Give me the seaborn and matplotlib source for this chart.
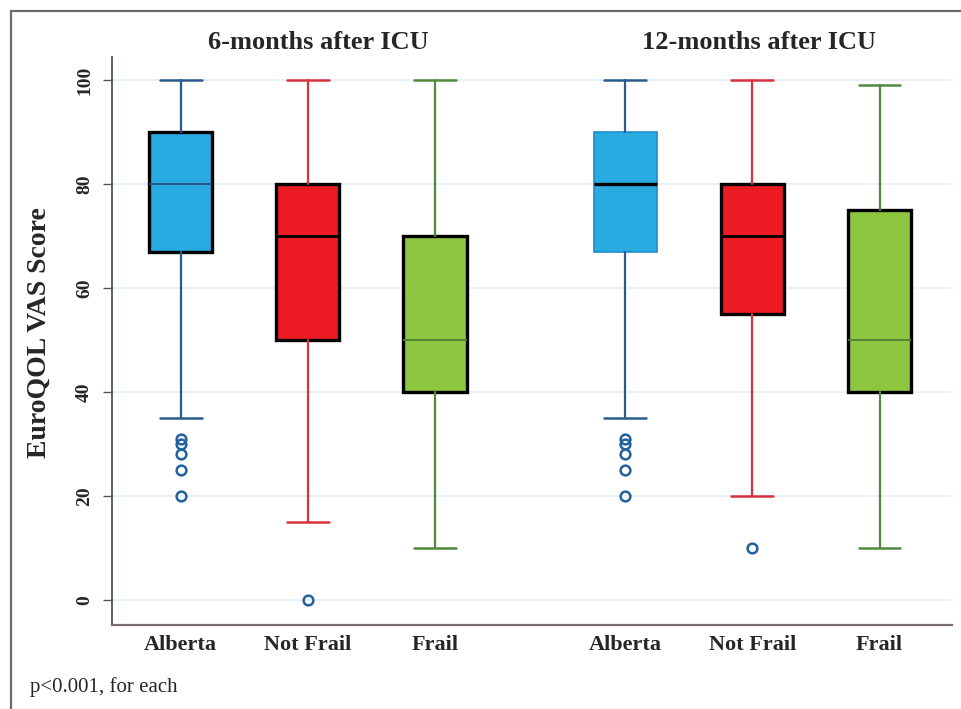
import matplotlib
matplotlib.use("Agg")
import matplotlib.pyplot as plt
from matplotlib.patches import Rectangle
import seaborn as sns

sns.set_style("white")
plt.rcParams["font.family"] = ["Liberation Serif", "DejaVu Serif"]

# ---- data -------------------------------------------------------------
groups = ["Alberta", "Not Frail", "Frail"]
periods = ["6-months after ICU", "12-months after ICU"]

# five-number summaries per box: low whisker, Q1, median, Q3, high whisker
m6_whislo = [35, 15, 10]
m6_q1 = [67, 50, 40]
m6_med = [80, 70, 50]
m6_q3 = [90, 80, 70]
m6_whishi = [100, 100, 100]
m6_fliers = [[31, 30, 28, 25, 20], [0], []]

m12_whislo = [35, 20, 10]
m12_q1 = [67, 55, 40]
m12_med = [80, 70, 50]
m12_q3 = [90, 80, 75]
m12_whishi = [100, 100, 99]
m12_fliers = [[31, 30, 28, 25, 20], [10], []]

y_ticks = [0, 20, 40, 60, 80, 100]

# ---- styles -----------------------------------------------------------
fill_colors = ["#29ABE2", "#ED1C24", "#8DC63F"]
whisker_colors = ["#2C5A8C", "#D8323F", "#4F8A3C"]
flier_color = "#23609E"

# per-box outline / median styling, 6-month boxes then 12-month boxes
edge_colors = ["black", "black", "black", "#1E8DCB", "black", "black"]
edge_widths = [2.4, 2.4, 2.4, 1.2, 2.4, 2.4]
median_colors = ["#2C4F7C", "black", "#4A7D36", "black", "black", "#4A7D36"]
median_widths = [1.3, 2.0, 1.3, 2.4, 2.0, 1.3]

positions = [0, 1, 2, 3.5, 4.5, 5.5]


def summaries(lo, q1, med, q3, hi, fl):
    out = []
    for i in range(len(lo)):
        out.append(dict(whislo=lo[i], q1=q1[i], med=med[i], q3=q3[i],
                        whishi=hi[i], fliers=fl[i]))
    return out


stats = (summaries(m6_whislo, m6_q1, m6_med, m6_q3, m6_whishi, m6_fliers)
         + summaries(m12_whislo, m12_q1, m12_med, m12_q3, m12_whishi, m12_fliers))

fig = plt.figure(figsize=(9.61, 7.09), dpi=100)
fig.patch.set_facecolor("white")
ax = fig.add_axes([0.1165, 0.1185, 0.8741, 0.8011])

for k, st in enumerate(stats):
    c = k % 3
    ax.bxp([st], positions=[positions[k]], widths=0.5, capwidths=0.33,
           patch_artist=True, showfliers=True,
           boxprops=dict(facecolor=fill_colors[c], edgecolor=edge_colors[k],
                         linewidth=edge_widths[k]),
           medianprops=dict(color=median_colors[k], linewidth=median_widths[k]),
           whiskerprops=dict(color=whisker_colors[c], linewidth=1.6),
           capprops=dict(color=whisker_colors[c], linewidth=1.8),
           flierprops=dict(marker="o", markerfacecolor="none",
                           markeredgecolor=flier_color, markeredgewidth=1.8,
                           markersize=7, linestyle="none"))

ax.set_xlim(-0.54, 6.07)
ax.set_ylim(-4.8, 104.4)
ax.set_yticks(y_ticks)
ax.set_yticklabels([str(v) for v in y_ticks], rotation=90, va="center",
                   fontweight="bold", fontsize=14)
ax.set_xticks(positions)
ax.set_xticklabels(groups * 2, fontweight="bold", fontsize=16)
ax.tick_params(axis="x", length=0, pad=7)
ax.tick_params(axis="y", length=6.5, width=1, color="#555555", pad=7,
               left=True)

ax.yaxis.grid(True, color="#E3EEF7", linewidth=1.2)
ax.set_axisbelow(True)
for side in ["top", "right"]:
    ax.spines[side].set_visible(False)
ax.spines["left"].set_color("#4A5366")
ax.spines["left"].set_linewidth(1.3)
ax.spines["bottom"].set_color("#7A6E6E")
ax.spines["bottom"].set_linewidth(1.6)

ax.set_ylabel("EuroQOL VAS Score", fontweight="bold", fontsize=20)
ax.yaxis.set_label_coords(-0.072, 0.514)

# panel headings centred over each group of boxes
for p, lbl in zip([1.08, 4.55], periods):
    ax.text(p, 1.025, lbl, transform=ax.get_xaxis_transform(), ha="center",
            va="center", fontweight="bold", fontsize=19)

fig.text(30 / 961, 1 - 687 / 709, "p<0.001, for each", ha="left",
         va="center", fontsize=15)

# outer frame around the figure
fig.patches.append(Rectangle((11 / 961, -0.05), 1.2, 1 - 11 / 709 + 0.05,
                             transform=fig.transFigure, fill=False,
                             edgecolor="#6B6B6B", linewidth=1.6))

fig.savefig("out.png", dpi=100, facecolor="white")
